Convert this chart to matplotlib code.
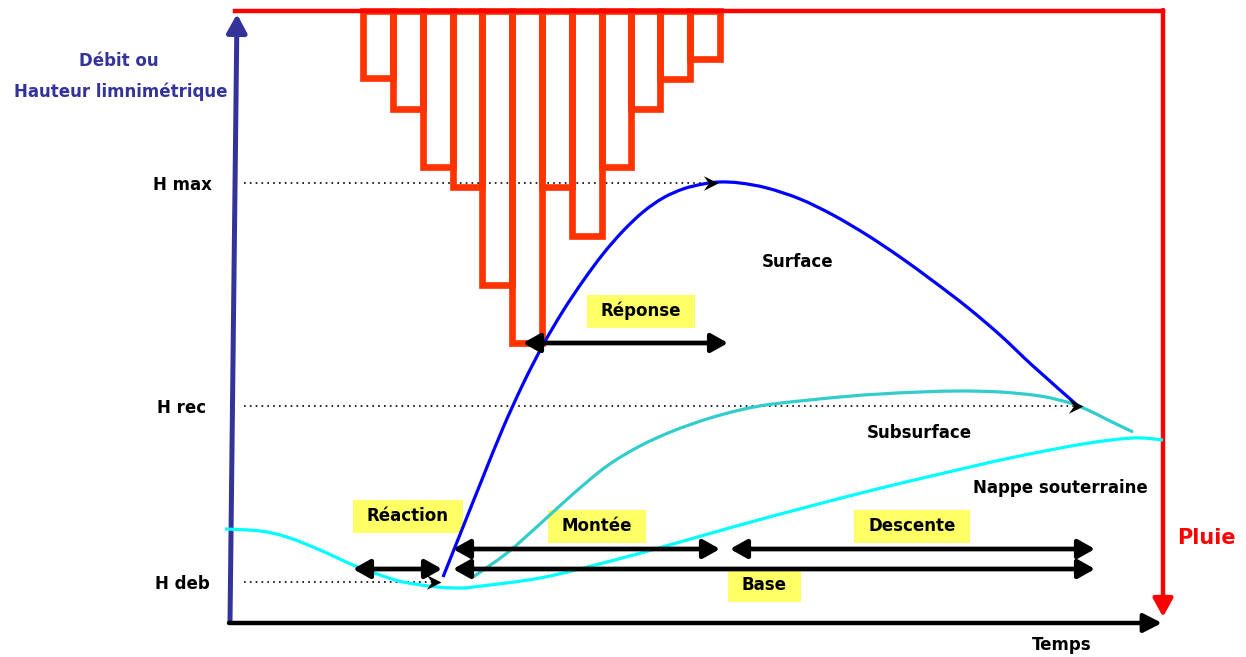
import matplotlib
matplotlib.use('Agg')
import matplotlib.pyplot as plt
from matplotlib.path import Path
from matplotlib.patches import PathPatch, Rectangle

# pluie : bords des barres (px) et profondeur depuis la ligne du haut
rain_edges = [363, 393, 423, 453, 482, 512, 542, 572, 602, 631, 660, 690, 720]
rain_depth = [67, 98, 156, 176, 274, 332, 176, 225, 156, 98, 68, 48]
rain_top = 11

# ruissellement de surface
surf_x = [443, 463, 483, 503, 523, 543, 563, 583, 603, 623, 643, 663, 683, 703, 720,
          740, 767, 800, 833, 867, 900, 933, 967, 1000, 1033, 1077]
surf_y = [577, 527, 477, 428, 384, 345, 311, 281, 254, 231, 212, 198, 189, 184, 182,
          183, 188, 199, 215, 235, 257, 281, 307, 335, 366, 405]

# écoulement de subsurface
sub_x = [473, 507, 540, 573, 607, 640, 673, 707, 740, 773, 840, 880, 920, 960, 1000,
         1040, 1070, 1090, 1110, 1133]
sub_y = [577, 553, 524, 494, 466, 446, 431, 419, 410, 404, 397, 394, 392, 391, 392,
         396, 403, 411, 421, 432]

# nappe souterraine
gw_x = [225, 260, 287, 320, 353, 380, 403, 437, 460, 473, 540, 607, 673, 740, 807,
        873, 940, 1010, 1083, 1133, 1163]
gw_y = [529, 531, 537, 550, 565, 575, 582, 587, 588, 587, 578, 562, 544, 525, 507,
        490, 474, 458, 444, 438, 440]

# niveaux
h_labels = ['H max', 'H rec', 'H deb']
h_levels = [183, 406, 582]
h_ends = [718, 1083, 441]


def smooth_path(xs, ys):
    # courbe lisse passant par les points lus (Catmull-Rom -> Bezier)
    pts = list(zip(xs, ys))
    verts = [pts[0]]
    codes = [Path.MOVETO]
    n = len(pts)
    for i in range(n - 1):
        p0 = pts[i - 1] if i > 0 else pts[i]
        p1 = pts[i]
        p2 = pts[i + 1]
        p3 = pts[i + 2] if i + 2 < n else p2
        c1 = (p1[0] + (p2[0] - p0[0]) / 6, p1[1] + (p2[1] - p0[1]) / 6)
        c2 = (p2[0] - (p3[0] - p1[0]) / 6, p2[1] - (p3[1] - p1[1]) / 6)
        verts += [c1, c2, p2]
        codes += [Path.CURVE4] * 3
    return Path(verts, codes)


fig = plt.figure(figsize=(12.46, 6.57), dpi=100)
ax = fig.add_axes([0, 0, 1, 1])
ax.set_xlim(0, 1246)
ax.set_ylim(657, 0)
ax.axis('off')

font = dict(family='DejaVu Sans', weight='bold', size=12)
red = '#ff0000'
orange = '#ff3300'
navy = '#333399'

# hyetogramme
widths = [rain_edges[i + 1] - rain_edges[i] for i in range(len(rain_depth))]
ax.bar(rain_edges[:-1], rain_depth, width=widths, bottom=rain_top, align='edge',
       fill=False, edgecolor=orange, linewidth=4.8, zorder=2)
ax.plot([235, 1163], [rain_top, rain_top], color=red, lw=3.2, zorder=3)
ax.annotate('', xy=(1163, 617), xytext=(1163, rain_top - 1),
            arrowprops=dict(arrowstyle='-|>,head_length=0.55,head_width=0.3',
                            mutation_scale=20, color=red, lw=3.2,
                            shrinkA=0, shrinkB=0))
ax.text(1206, 538, 'Pluie', color=red, ha='center', va='center',
        family='DejaVu Sans', weight='bold', size=15)

# axes
ax.annotate('', xy=(237, 14), xytext=(230, 622),
            arrowprops=dict(arrowstyle='-|>,head_length=0.55,head_width=0.3',
                            mutation_scale=20, color=navy, lw=3.6,
                            shrinkA=0, shrinkB=0))
ax.annotate('', xy=(1162, 623), xytext=(229, 623),
            arrowprops=dict(arrowstyle='-|>,head_length=0.55,head_width=0.28',
                            mutation_scale=20, color='black', lw=3.2,
                            shrinkA=0, shrinkB=0))
ax.text(119, 61, 'Débit ou', color=navy, ha='center', va='center', **font)
ax.text(121, 92, 'Hauteur limnimétrique', color=navy, ha='center', va='center', **font)
ax.text(1062, 645, 'Temps', ha='center', va='center', **font)

# niveaux pointillés
head = [(0, 0), (-1, 0.5), (-0.65, 0), (-1, -0.5), (0, 0)]
for lab, lev, end in zip(h_labels, h_levels, h_ends):
    ax.plot([244, end - 6], [lev, lev], color='black', lw=1.2, ls=(0, (1, 2.5)), zorder=1)
    ax.plot(end, lev, marker=head, ms=21, color='black', mew=0, zorder=6)
    ax.text(182, lev + 2, lab, ha='center', va='center', **font)

# courbes
for xs, ys, c in [(gw_x, gw_y, '#00ffff'), (sub_x, sub_y, '#33cccc'),
                  (surf_x, surf_y, '#0000ff')]:
    ax.add_patch(PathPatch(smooth_path(xs, ys), fill=False, edgecolor=c, lw=2.3,
                           capstyle='butt', zorder=4))

ax.text(798, 262, 'Surface', ha='center', va='center', **font)
ax.text(919, 433, 'Subsurface', ha='center', va='center', **font)
ax.text(1060, 488, 'Nappe souterraine', ha='center', va='center', **font)

# flèches de durée
spans = [('Réponse', 523, 728, 343, 641, 311),
         ('Réaction', 353, 442, 569, 408, 516),
         ('Montée', 453, 720, 549, 597, 526),
         ('Descente', 730, 1095, 549, 912, 526),
         ('Base', 453, 1095, 569, 764, 585)]
fig.canvas.draw()
renderer = fig.canvas.get_renderer()
inv = ax.transData.inverted()
for lab, x0, x1, y, tx, ty in spans:
    ax.annotate('', xy=(x1, y), xytext=(x0, y),
                arrowprops=dict(arrowstyle='<|-|>,head_length=0.5,head_width=0.28',
                                mutation_scale=20, color='black', lw=3.4,
                                shrinkA=0, shrinkB=0), zorder=5)
    t = ax.text(tx, ty, lab, ha='center', va='center', zorder=3, **font)
    bb = t.get_window_extent(renderer)
    (ax0, ay0), (ax1, ay1) = inv.transform([(bb.x0, bb.y0), (bb.x1, bb.y1)])
    w = abs(ax1 - ax0) + 28
    ax.add_patch(Rectangle((tx - w / 2, ty - 16.5), w, 33, facecolor='#ffff66',
                           edgecolor='none', zorder=2.5))

fig.savefig('out.png', dpi=100)
